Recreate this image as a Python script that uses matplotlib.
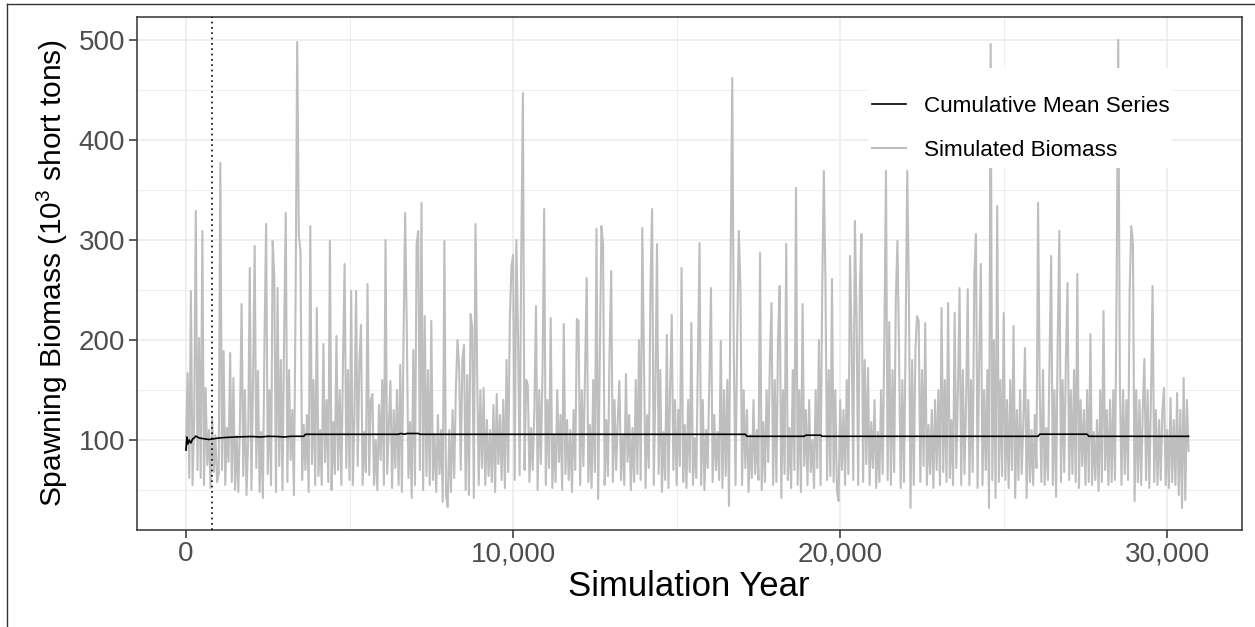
import numpy as np
import matplotlib.pyplot as plt
from matplotlib.lines import Line2D
from matplotlib.patches import Rectangle
from matplotlib.ticker import FixedLocator, FuncFormatter

plt.rcParams['font.family'] = ['Liberation Sans', 'DejaVu Sans']
plt.rcParams['mathtext.default'] = 'regular'

# simulated spawning biomass, one value every 50 simulation years
biomass = [
    90, 167, 62, 249, 55, 120, 329, 70, 202, 62, 309, 55, 152, 75, 110, 52, 122, 68, 105, 58,
    66, 377, 70, 189, 55, 112, 78, 187, 58, 162, 50, 104, 48, 120, 236, 64, 150, 45, 98, 272,
    50, 160, 294, 72, 169, 48, 108, 42, 200, 316, 66, 150, 55, 299, 262, 48, 252, 74, 180, 50,
    206, 327, 58, 170, 80, 130, 45, 239, 498, 304, 289, 60, 115, 70, 125, 48, 314, 76, 160, 55,
    232, 64, 110, 55, 196, 78, 140, 58, 299, 50, 118, 66, 204, 70, 150, 55, 180, 276, 72, 170,
    60, 249, 55, 122, 249, 74, 175, 215, 55, 108, 68, 256, 65, 140, 146, 55, 100, 50, 135, 80,
    160, 55, 300, 66, 112, 159, 52, 130, 72, 150, 55, 175, 48, 200, 327, 213, 62, 118, 42, 190,
    55, 296, 309, 70, 337, 50, 224, 64, 170, 55, 219, 60, 106, 48, 125, 66, 110, 38, 299, 45,
    33, 110, 48, 130, 62, 150, 200, 172, 70, 180, 195, 50, 165, 45, 226, 213, 42, 316, 172, 55,
    150, 72, 152, 55, 120, 64, 110, 58, 135, 48, 146, 76, 125, 60, 140, 52, 180, 68, 220, 273,
    285, 60, 300, 206, 65, 287, 447, 70, 160, 155, 58, 112, 70, 130, 234, 50, 150, 76, 170, 331,
    55, 140, 72, 222, 52, 105, 58, 150, 78, 125, 50, 216, 66, 120, 60, 110, 48, 130, 70, 221,
    219, 55, 150, 74, 170, 262, 58, 115, 52, 160, 68, 311, 41, 180, 314, 296, 55, 120, 64, 190,
    269, 58, 140, 70, 120, 159, 60, 105, 55, 166, 78, 125, 50, 112, 58, 160, 66, 200, 60, 312,
    180, 52, 125, 72, 252, 331, 55, 150, 296, 66, 170, 48, 108, 60, 205, 52, 150, 225, 70, 140,
    55, 130, 74, 272, 58, 115, 52, 140, 68, 217, 55, 102, 62, 180, 297, 55, 140, 50, 110, 72,
    160, 252, 58, 125, 70, 108, 60, 199, 52, 150, 64, 160, 34, 276, 462, 180, 55, 200, 309, 252,
    55, 150, 72, 130, 48, 105, 62, 140, 66, 110, 60, 287, 50, 118, 58, 150, 78, 180, 237, 55,
    160, 58, 200, 254, 42, 150, 66, 296, 60, 112, 52, 170, 70, 352, 55, 150, 48, 236, 74, 130,
    55, 140, 68, 100, 52, 150, 72, 200, 55, 250, 369, 256, 60, 170, 64, 261, 58, 150, 50, 39,
    140, 70, 130, 55, 160, 66, 284, 200, 60, 319, 220, 55, 250, 306, 58, 180, 76, 172, 55, 118,
    72, 140, 52, 108, 58, 150, 66, 200, 369, 60, 218, 55, 170, 68, 240, 299, 186, 52, 160, 58,
    200, 369, 246, 32, 180, 55, 190, 224, 219, 58, 170, 74, 217, 55, 115, 66, 130, 52, 140, 70,
    150, 55, 232, 68, 160, 58, 237, 62, 120, 55, 227, 72, 150, 252, 55, 170, 66, 140, 251, 55,
    160, 68, 264, 306, 52, 180, 276, 55, 150, 70, 170, 32, 496, 60, 200, 42, 334, 58, 160, 64,
    227, 60, 140, 52, 160, 70, 214, 42, 130, 60, 150, 66, 120, 192, 42, 140, 58, 110, 55, 125,
    72, 337, 150, 58, 170, 55, 112, 60, 180, 284, 55, 150, 43, 200, 309, 58, 160, 68, 180, 257,
    60, 150, 66, 170, 58, 266, 52, 140, 74, 130, 55, 150, 58, 206, 55, 108, 60, 120, 49, 150,
    58, 229, 70, 130, 55, 140, 58, 150, 60, 249, 500, 160, 55, 150, 66, 140, 60, 250, 314, 296,
    39, 150, 58, 140, 55, 130, 181, 60, 150, 52, 140, 254, 58, 130, 55, 120, 60, 130, 152, 55,
    110, 52, 142, 58, 120, 55, 147, 45, 130, 32, 162, 40, 140, 89,
]
years = np.arange(len(biomass)) * 50

# cumulative mean series (year, value)
mean_years = [0, 30, 60, 100, 150, 200, 250, 300, 350, 400, 500, 600, 700, 800, 900,
              1000, 1200, 1500, 2000, 2300, 2500, 2800, 3000, 3200, 3600, 3650,
              6500, 6550, 6700, 6750, 7100, 7150, 17100, 17150, 18900, 18950, 19400,
              19450, 26050, 26100, 27550, 27600, 30650]
mean_vals = [90, 103, 96, 100, 97, 101, 102, 104, 103, 102, 101.5, 101, 100.5, 101, 101.5,
             102, 102.5, 103, 103.5, 103, 103.7, 103.5, 103, 103.7, 103.7, 105.7,
             105.7, 106.5, 105.7, 106.5, 106.5, 105.7, 105.7, 103.7, 103.7, 104.8, 104.8,
             103.7, 103.7, 105.8, 105.8, 103.7, 103.7]

burn_in = 790

x_major = [0, 10000, 20000, 30000]
x_minor = [5000, 15000, 25000]
y_major = [100, 200, 300, 400, 500]
y_minor = [50, 150, 250, 350, 450]

W, H = 1255, 627
fig = plt.figure(figsize=(W / 100, H / 100), dpi=100)
pl, pr, pt, pb = 136.7, 1241.7, 17, 530
ax = fig.add_axes([pl / W, 1 - pb / H, (pr - pl) / W, (pb - pt) / H])

ax.plot(years, biomass, color='#BEBEBE', lw=1.5, zorder=2)
ax.plot(mean_years, mean_vals, color='black', lw=1.2, zorder=3)
ax.axvline(burn_in, color='black', lw=1.2, ls=(0, (1, 2.2)), zorder=3)

ax.set_xlim(-1507, 32275)
ax.set_ylim(10, 523)

ax.xaxis.set_major_locator(FixedLocator(x_major))
ax.xaxis.set_minor_locator(FixedLocator(x_minor))
ax.yaxis.set_major_locator(FixedLocator(y_major))
ax.yaxis.set_minor_locator(FixedLocator(y_minor))
ax.xaxis.set_major_formatter(FuncFormatter(lambda v, p: f'{int(v):,}'))

ax.set_axisbelow(True)
ax.grid(which='major', color='#EBEBEB', lw=1.1)
ax.grid(which='minor', color='#EBEBEB', lw=0.6)

ax.tick_params(which='major', length=5.5, width=1.1, color='#333333',
               labelsize=20, labelcolor='#4D4D4D')
ax.tick_params(axis='x', which='major', pad=2.5)
ax.tick_params(axis='y', which='major', pad=3)
ax.tick_params(which='minor', length=0)
for s in ax.spines.values():
    s.set_color('#333333')
    s.set_linewidth(1.1)

ax.set_xlabel('Simulation Year', fontsize=25, labelpad=2)
ax.set_ylabel('Spawning Biomass (10$^3$ short tons)', fontsize=21.5, labelpad=6)

# white legend background inside the panel
x0 = (868 - pl) / (pr - pl)
x1 = (1172 - pl) / (pr - pl)
y0 = (pb - 168) / (pb - pt)
y1 = (pb - 68) / (pb - pt)
ax.add_patch(Rectangle((x0, y0), x1 - x0, y1 - y0, transform=ax.transAxes,
                       facecolor='white', edgecolor='none', zorder=4))

handles = [Line2D([], [], color='black', lw=1.2),
           Line2D([], [], color='#BEBEBE', lw=1.5)]
labels = ['Cumulative Mean Series', 'Simulated Biomass']
leg = ax.legend(handles, labels, loc='upper left',
                bbox_to_anchor=((871.7 - pl) / (pr - pl), (pb - 96) / (pb - pt)),
                frameon=False, fontsize=16.2, borderpad=0, borderaxespad=0,
                handlelength=1.53, handletextpad=0.8, labelspacing=1.03)
leg.set_zorder(5)

# outer frame of the original screenshot
fig.add_artist(Line2D([7.3 / W, 1], [1 - 4 / H, 1 - 4 / H], color='#333333', lw=1.0))
fig.add_artist(Line2D([7.3 / W, 7.3 / W], [0, 1 - 4 / H], color='#333333', lw=1.0))

fig.savefig('out.png', dpi=100)
